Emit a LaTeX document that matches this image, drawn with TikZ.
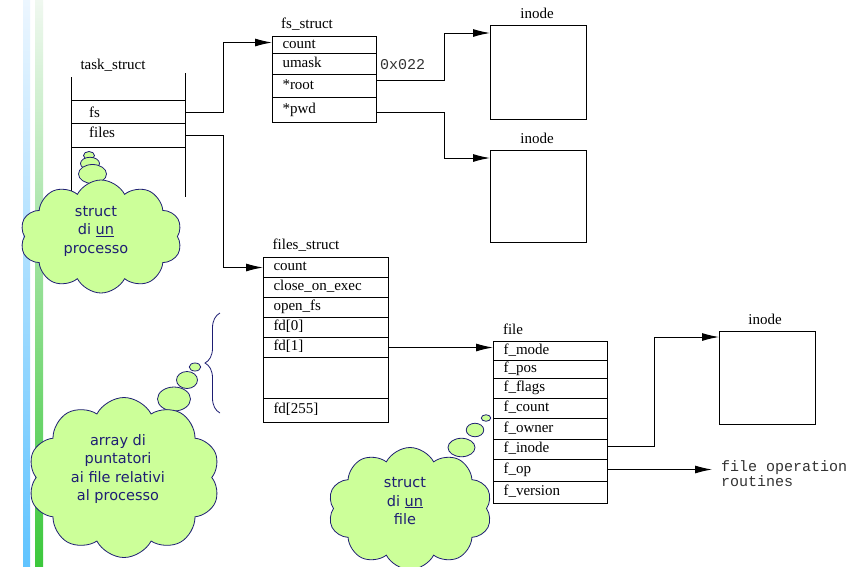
\documentclass[tikz,border=0pt]{standalone}
\usepackage{fontspec}
\setmainfont{Liberation Serif}
\newfontfamily\scanfont{Liberation Serif}
\newfontfamily\ttscan{Liberation Mono}
\newfontfamily\cloudfont{DejaVu Sans}
\usetikzlibrary{shapes.symbols,shapes.geometric,arrows.meta,decorations.pathreplacing}
\definecolor{cloudfill}{RGB}{204,255,153}
\definecolor{navy}{RGB}{30,30,115}
\newcommand\mycell[6]{\node[cell, minimum height=#5pt, text width=#4pt] (#1) at (#2,#3) {\hspace*{10pt}\strut #6};}
\begin{document}
\begin{tikzpicture}[x=1pt,y=-1pt,
  cell/.style={draw, line width=1pt, rectangle, anchor=north west, inner xsep=0pt, inner ysep=0pt,
    align=left, font=\scanfont\fontsize{15}{17}\selectfont},
  lbl/.style={inner sep=0pt, font=\scanfont\fontsize{15}{17}\selectfont},
  ttl/.style={inner sep=0pt, align=left, text=black!80, font=\ttscan\fontsize{15}{15}\selectfont},
  inodebox/.style={draw, line width=1pt, anchor=north west, inner sep=0pt, minimum width=96pt, minimum height=94pt},
  arr/.style={line width=1pt, -{Latex[length=17pt,width=8pt]}},
  plain/.style={line width=1pt},
  cloudshape/.style={cloud, cloud puffs=10, cloud puff arc=125, cloud ignores aspect, draw=navy, fill=cloudfill, line width=0.8pt, inner sep=0pt},
  bubble/.style={draw=navy, fill=cloudfill, line width=0.8pt},
  cloudtext/.style={inner sep=0pt, align=center, text=navy, font=\cloudfont\fontsize{14.5}{18.5}\selectfont}
]
\useasboundingbox (0,0) rectangle (856,566);
\fill[white] (0,0) rectangle (856,566);

% side bars
\shade[top color={rgb,255:red,236;green,246;blue,255}, middle color={rgb,255:red,176;green,220;blue,255}, bottom color={rgb,255:red,96;green,196;blue,255}] (23,0) rectangle (30,566);
\shade[top color={rgb,255:red,240;green,248;blue,240}, middle color={rgb,255:red,176;green,224;blue,176}, bottom color={rgb,255:red,60;green,200;blue,60}] (35,0) rectangle (43,566);

% task_struct
\node[lbl] (tslbl) at (113,65) {task\_struct};
\coordinate (tsTL) at (71,77);
\coordinate (tsBL) at (71,196);
\coordinate (tsTR) at (185,73);
\coordinate (tsBR) at (185,197);
\draw[plain] (tsTL) -- (tsBL);
\draw[plain] (tsTR) -- (tsBR);
\draw[plain] (71,100) -- (185,100);
\draw[plain] (71,123) -- (185,123);
\draw[plain] (71,147) -- (185,147);
\node[lbl, anchor=base west] (tsfs) at (89,117) {fs};
\node[lbl, anchor=base west] (tsfiles) at (89,137) {files};
\coordinate (fsout) at (185,112);
\coordinate (filesout) at (185,135);

% fs_struct
\node[lbl] (fslbl) at (307,24) {fs\_struct};
\mycell{fsA}{272}{36}{104}{17}{count}
\mycell{fsB}{272}{53}{104}{21}{umask}
\mycell{fsC}{272}{74}{104}{23}{*root}
\mycell{fsD}{272}{97}{104}{25}{*pwd}
\node[ttl, anchor=west] (hex) at (380,65) {0x022};

% inodes
\node[inodebox] (in1) at (490,25) {};
\node[lbl] (in1lbl) at (537,13) {inode};
\node[inodebox, minimum height=92pt] (in2) at (490,150) {};
\node[lbl] (in2lbl) at (537,138) {inode};
\node[inodebox, minimum height=93pt] (in3) at (719,331) {};
\node[lbl] (in3lbl) at (765,319) {inode};

% files_struct
\node[lbl] (filesslbl) at (306,245) {files\_struct};
\mycell{fa}{263}{257}{125}{20}{count}
\mycell{fb}{263}{277}{125}{20}{close\_on\_exec}
\mycell{fc}{263}{297}{125}{20}{open\_fs}
\mycell{fd0}{263}{317}{125}{20}{fd[0]}
\mycell{fd1}{263}{337}{125}{20}{fd[1]}
\mycell{fdx}{263}{357}{125}{41}{}
\mycell{fdz}{263}{398}{125}{24}{fd[255]}

% file
\node[lbl] (filelbl) at (513,329) {file};
\mycell{fmode}{493}{341}{114}{19}{f\_mode}
\mycell{fpos}{493}{360}{114}{18}{f\_pos}
\mycell{fflags}{493}{378}{114}{20}{f\_flags}
\mycell{fcount}{493}{398}{114}{20}{f\_count}
\mycell{fowner}{493}{418}{114}{21}{f\_owner}
\mycell{finode}{493}{439}{114}{20}{f\_inode}
\mycell{fop}{493}{459}{114}{22}{f\_op}
\mycell{fver}{493}{481}{114}{22}{f\_version}
\node[ttl, anchor=west] (fopt) at (721,473.5) {file operation\\routines};

% connectors
\draw[arr] (fsout) -- ++(38,0) |- ([yshift=2.5pt]fsA.west);
\draw[arr] (filesout) -- ++(38,0) |- (fa.west);
\draw[arr] ([yshift=6pt]fsC.east) -- ++(67,0) |- ([yshift=-8pt]in1.north west);
\draw[arr] ([yshift=-2.5pt]fsD.east) -- ++(67,0) |- ([yshift=-8pt]in2.north west);
\draw[arr] (fd1.east) -- (fd1.east -| fmode.west);
\draw[arr] ([yshift=3pt]finode.east) -- ++(46,0) |- ([yshift=-6pt]in3.north west);
\draw[arr, shorten >=9pt] ([yshift=1pt]fop.east) -- ([yshift=1pt]fop.east -| fopt.west);

% brace
\draw[navy, line width=0.8pt, decorate, decoration={brace, amplitude=15pt}] (220,413) -- (220,313);

% cloud 1
\node[bubble, ellipse, minimum width=11pt, minimum height=8pt, inner sep=0pt] (b1a) at (89,155.5) {};
\node[bubble, ellipse, minimum width=19pt, minimum height=12.5pt, inner sep=0pt] (b1b) at (90,163.5) {};
\node[bubble, ellipse, minimum width=28pt, minimum height=19pt, inner sep=0pt] (b1c) at (92.5,174) {};
\node[cloudshape, minimum width=162pt, minimum height=113pt] (c1) at (101,236.5) {};
\node[cloudtext] (t1) at (96,231) {struct\\di \underline{un}\\processo};

% cloud 2
\node[bubble, ellipse, minimum width=11.5pt, minimum height=8pt, inner sep=0pt] (b2a) at (195,367) {};
\node[bubble, ellipse, minimum width=21pt, minimum height=17pt, inner sep=0pt] (b2b) at (187,380) {};
\node[bubble, ellipse, minimum width=33pt, minimum height=24pt, inner sep=0pt] (b2c) at (174,399) {};
\node[cloudshape, minimum width=192pt, minimum height=160pt] (c2) at (124,477.5) {};
\node[cloudtext] (t2) at (118,469) {array di\\puntatori\\ai file relativi\\al processo};

% cloud 3
\node[bubble, ellipse, minimum width=9.5pt, minimum height=6.5pt, inner sep=0pt] (b3a) at (486,418) {};
\node[bubble, ellipse, minimum width=17.5pt, minimum height=13.5pt, inner sep=0pt] (b3b) at (475,430) {};
\node[bubble, ellipse, minimum width=27pt, minimum height=18.5pt, inner sep=0pt] (b3c) at (461.5,447.5) {};
\node[cloudshape, minimum width=164pt, minimum height=122pt] (c3) at (410,508.5) {};
\node[cloudtext] (t3) at (405,501) {struct\\di \underline{un}\\file};
\end{tikzpicture}
\end{document}
